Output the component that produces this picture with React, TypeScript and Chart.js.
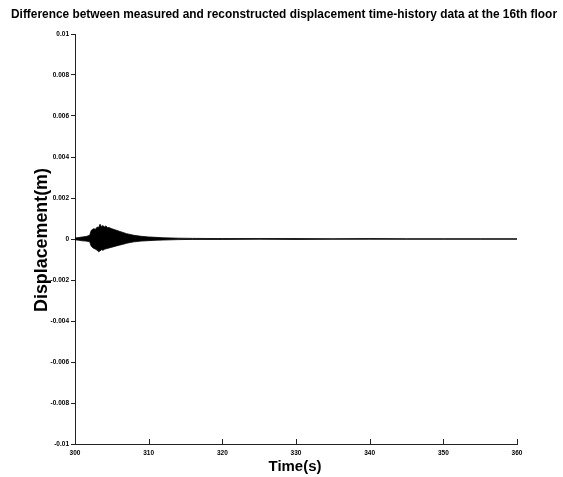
import React, { useEffect, useRef } from "react";
import { Chart, registerables } from "chart.js";

Chart.register(...registerables);

// Envelope of the difference signal (m)
const times = [300, 300.5, 301, 301.5, 302, 302.2, 302.5, 302.8, 303, 303.2, 303.4, 303.6, 303.8, 304.0, 304.2, 304.4, 304.6, 305, 305.5, 306, 306.5, 307, 307.5, 308, 309, 310, 311, 312, 314, 316, 320, 325, 330, 335, 340, 345, 350, 355, 360];
const upper = [0.00005, 0.00007, 0.0001, 0.00012, 0.00018, 0.00042, 0.0005, 0.00048, 0.00058, 0.00056, 0.00072, 0.0006, 0.00066, 0.00058, 0.00064, 0.00055, 0.00056, 0.0005, 0.00044, 0.00038, 0.00032, 0.00026, 0.00022, 0.00018, 0.00013, 0.0001, 0.00008, 0.00006, 0.00004, 0.00003, 0.00002, 0.00002, 0.00002, 0.00001, 0.00002, 0.00001, 0.00001, 0.00001, 0.00001];
const lower = [-0.00004, -0.00006, -0.00009, -0.0001, -0.00014, -0.00035, -0.00045, -0.0005, -0.00055, -0.00062, -0.00058, -0.00052, -0.00055, -0.0005, -0.00048, -0.00046, -0.00044, -0.0004, -0.00035, -0.0003, -0.00026, -0.00021, -0.00017, -0.00014, -0.0001, -0.00008, -0.00006, -0.00005, -0.00003, -0.00002, -0.00002, -0.00001, -0.00002, -0.00001, -0.00001, -0.00001, -0.00001, -0.00001, -0.00001];

const xTicks = [300, 310, 320, 330, 340, 350, 360];
const yTicks = [-0.01, -0.008, -0.006, -0.004, -0.002, 0, 0.002, 0.004, 0.006, 0.008, 0.01];

const titleText = "Difference between measured and reconstructed displacement time-history data at the 16th floor";
const xLabel = "Time(s)";
const yLabel = "Displacement(m)";

const SANS = "'Liberation Sans', Arial, Helvetica, sans-serif";

function fitText(ctx: CanvasRenderingContext2D, text: string, family: string, target: number) {
  ctx.font = `bold 100px ${family}`;
  const w = ctx.measureText(text).width;
  const size = (100 * target) / w;
  ctx.font = `bold ${size}px ${family}`;
}

const decorPlugin = {
  id: "decor",
  afterDraw(chart: any) {
    const ctx: CanvasRenderingContext2D = chart.ctx;
    const xs = chart.scales.x;
    const area = chart.chartArea;
    ctx.save();
    // inward x ticks
    ctx.strokeStyle = "#222";
    ctx.lineWidth = 1;
    xTicks.forEach((v) => {
      const px = Math.round(xs.getPixelForValue(v)) + 0.5;
      ctx.beginPath();
      ctx.moveTo(px, area.bottom);
      ctx.lineTo(px, area.bottom - 5);
      ctx.stroke();
    });
    ctx.fillStyle = "#000";
    ctx.textAlign = "center";
    ctx.textBaseline = "middle";
    // title: condensed bold, squeezed to its width
    ctx.save();
    ctx.font = `bold 13.5px ${SANS}`;
    const tw = ctx.measureText(titleText).width;
    ctx.translate(284, 14);
    ctx.scale(546 / tw, 1);
    ctx.fillText(titleText, 0, 0);
    ctx.restore();
    // x label
    fitText(ctx, xLabel, SANS, 53);
    ctx.fillText(xLabel, 295, 467);
    // y label
    ctx.translate(42, 240);
    ctx.rotate(-Math.PI / 2);
    fitText(ctx, yLabel, SANS, 144);
    ctx.fillText(yLabel, 0, 0);
    ctx.restore();
  },
};

export default function App() {
  const ref = useRef<HTMLCanvasElement | null>(null);
  useEffect(() => {
    if (!ref.current) return;
    const chart = new Chart(ref.current, {
      type: "line",
      data: {
        datasets: [
          {
            label: "upper",
            data: times.map((t, i) => ({ x: t, y: upper[i] })),
            borderColor: "#000",
            backgroundColor: "#000",
            borderWidth: 0.8,
            pointRadius: 0,
            fill: "+1",
            tension: 0,
          },
          {
            label: "lower",
            data: times.map((t, i) => ({ x: t, y: lower[i] })),
            borderColor: "#000",
            backgroundColor: "#000",
            borderWidth: 0.8,
            pointRadius: 0,
            fill: false,
            tension: 0,
          },
        ],
      },
      options: {
        animation: false,
        responsive: true,
        maintainAspectRatio: false,
        layout: { padding: { top: 34, left: 0, right: 46, bottom: 0 }, autoPadding: false } as any,
        plugins: {
          legend: { display: false },
          title: { display: false },
          tooltip: { enabled: false },
        },
        scales: {
          x: {
            type: "linear",
            min: 300,
            max: 360,
            afterBuildTicks: (s: any) => {
              s.ticks = xTicks.map((v) => ({ value: v }));
            },
            afterFit: (s: any) => {
              s.height = 33;
            },
            grid: { display: true, drawOnChartArea: false, drawTicks: false, color: "#222" },
            border: { display: true, color: "#222", width: 1 },
            ticks: {
              padding: 5,
              maxRotation: 0,
              autoSkip: false,
              color: "#000",
              font: { family: SANS, size: 6.5, weight: "bold" },
              callback: (v: any) => String(v),
            },
          },
          y: {
            type: "linear",
            min: -0.01,
            max: 0.01,
            afterBuildTicks: (s: any) => {
              s.ticks = yTicks.map((v) => ({ value: v }));
            },
            afterFit: (s: any) => {
              s.width = 75;
            },
            grid: { display: true, drawOnChartArea: false, drawTicks: true, tickLength: 4, color: "#222" },
            border: { display: true, color: "#222", width: 1 },
            ticks: {
              padding: 2,
              autoSkip: false,
              color: "#000",
              font: { family: SANS, size: 6.5, weight: "bold" },
              callback: (v: any) => String(Number(v)),
            },
          },
        },
      },
      plugins: [decorPlugin],
    } as any);
    return () => chart.destroy();
  }, []);
  return (
    <div style={{ position: "absolute", left: 0, top: 0, width: 563, height: 477, background: "#fff" }}>
      <canvas ref={ref} />
    </div>
  );
}
